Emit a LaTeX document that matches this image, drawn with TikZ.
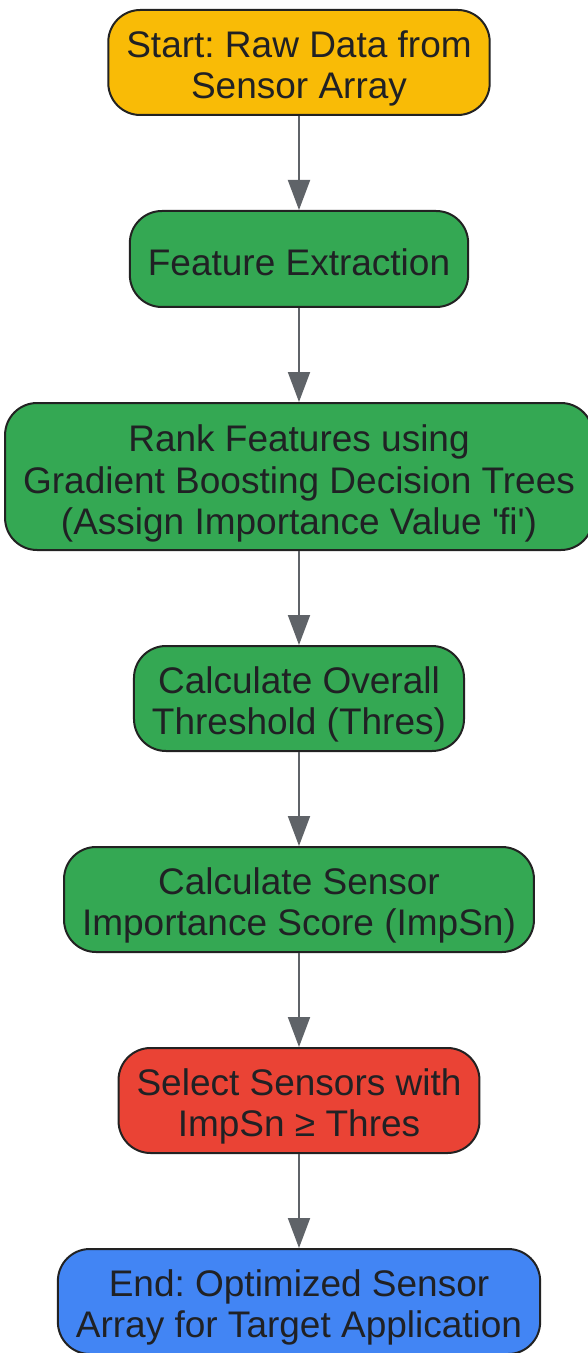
\documentclass[tikz,border=0pt]{standalone}
\usepackage{fontspec}
\setmainfont{Liberation Sans}
\frenchspacing
\usetikzlibrary{positioning,arrows.meta}
\definecolor{startcol}{HTML}{F9BB06}
\definecolor{stepcol}{HTML}{34A853}
\definecolor{selectcol}{HTML}{EA4335}
\definecolor{endcol}{HTML}{4285F4}
\definecolor{edgecol}{HTML}{222222}
\definecolor{textcol}{HTML}{202124}
\definecolor{flowcol}{HTML}{5F6368}
\tikzset{
    node distance=47pt,
    block/.style = {
        draw=edgecol,
        shape=rectangle,
        rounded corners=16pt,
        minimum height=52.5pt,
        inner xsep=9pt,
        inner ysep=0pt,
        text height=38.5pt,
        text depth=2.3pt,
        align=center,
        text=textcol,
        font=\fontsize{18.5}{20.75}\selectfont,
        line width=1pt
    },
    oneline/.style = {
        minimum height=48pt,
        text height=19pt
    },
    threeline/.style = {
        minimum height=73.5pt,
        text height=60.5pt
    },
    flow/.style = {
        draw=flowcol,
        line width=1pt,
        ->
    },
    >={Triangle[length=15pt,width=11pt]},
}

\begin{document}
\begin{tikzpicture}
        \useasboundingbox (0,0) rectangle (294pt,-676.5pt);
        \node[block, fill=startcol] (start) at (149.5pt,-31.25pt) {Start: Raw Data from\\Sensor Array};
        \node[block, oneline, fill=stepcol, below=of start] (extract) {Feature Extraction};
        \node[block, threeline, fill=stepcol, below=of extract] (rank) {Rank Features using\\Gradient Boosting Decision Trees\\(Assign Importance Value \textquotesingle fi\textquotesingle)};
        \node[block, fill=stepcol, below=of rank] (thres) {Calculate Overall\\Threshold (Thres)};
        \node[block, fill=stepcol, below=of thres] (score) {Calculate Sensor\\Importance Score (ImpSn)};
        \node[block, fill=selectcol, below=of score] (select) {Select Sensors with\\ImpSn ≥ Thres};
        \node[block, fill=endcol, below=of select] (end) {End: Optimized Sensor\\Array for Target Application};

        \path[flow] (start) -- (extract);
        \path[flow] (extract) -- (rank);
        \path[flow] (rank) -- (thres);
        \path[flow] (thres) -- (score);
        \path[flow] (score) -- (select);
        \path[flow] (select) -- (end);
    \end{tikzpicture}
\end{document}
